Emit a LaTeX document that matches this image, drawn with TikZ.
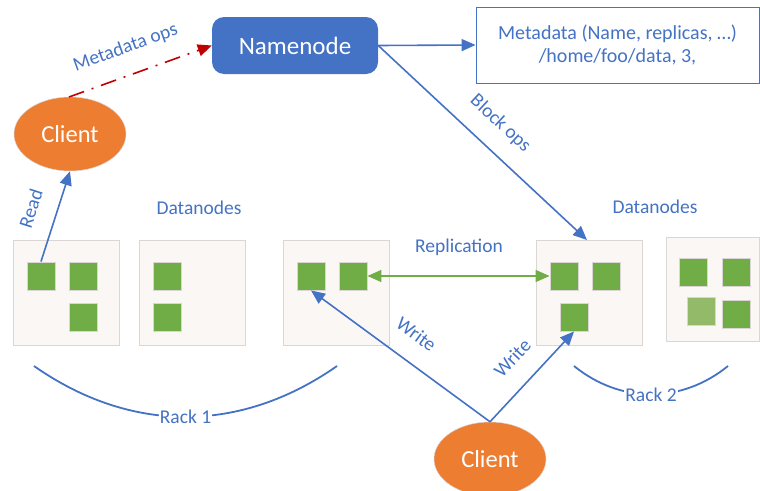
\documentclass[tikz,border=0pt]{standalone}
\usepackage{fontspec}
\setmainfont{Carlito}
\usetikzlibrary{arrows.meta,shapes.geometric}
\definecolor{mblue}{HTML}{4472C4}
\definecolor{mgreen}{HTML}{70AD47}
\definecolor{lgreen}{HTML}{93BA68}
\definecolor{morange}{HTML}{ED7D31}
\definecolor{mred}{HTML}{C00000}
\definecolor{boxfill}{HTML}{FBF7F4}
\definecolor{boxline}{HTML}{D9D6D4}
\tikzset{
  dnbox/.style={draw=boxline,fill=boxfill,line width=0.9pt,minimum width=106pt,minimum height=105pt,inner sep=0pt},
  blk/.style={draw=boxline,fill=mgreen,line width=0.9pt,minimum size=28pt,inner sep=0pt},
  lbl/.style={text=mblue,font=\fontsize{19.5}{22}\selectfont,inner sep=1pt},
  client/.style={ellipse,fill=morange,draw=boxline,line width=0.5pt,minimum width=112pt,minimum height=74pt,text=white,font=\fontsize{24.5}{27}\selectfont},
  barrow/.style={draw=mblue,line width=1.6pt,-{Triangle[length=14pt,width=12pt]}},
  rack/.style={draw=mblue,line width=1.8pt},
}
\begin{document}
\begin{tikzpicture}[x=1pt,y=-1pt]
\useasboundingbox (0,0) rectangle (760,490);
% Namenode
\node[fill=mblue,rounded corners=12pt,minimum width=166pt,minimum height=57pt,text=white,font=\fontsize{25}{28}\selectfont,inner sep=0pt] (nn) at (295,45.5) {Namenode};
% Metadata box
\node[draw=mblue,line width=0.9pt,minimum width=283pt,minimum height=76pt,inner sep=0pt,align=center,text=mblue,font=\fontsize{20}{23}\selectfont] (meta) at (617.5,45) {Metadata (Name, replicas, \ldots)\\/home/foo/data, 3,};
% Clients
\node[client] (c1) at (70,134) {Client};
\node[client] (c2) at (490,459) {Client};
% Datanode boxes
\node[dnbox] (d1) at (66,292.5) {};
\node[dnbox] (d2) at (192.5,292.5) {};
\node[dnbox] (d3) at (336,292.5) {};
\node[dnbox] (d4) at (589,292.5) {};
\node[dnbox,minimum width=93pt,minimum height=104pt] (d5) at (712.5,289) {};
% blocks
\node[blk] (b11) at (41,276) {};
\node[blk] (b12) at (83,276) {};
\node[blk] (b13) at (83,317) {};
\node[blk] (b21) at (167.5,276) {};
\node[blk] (b22) at (167.5,317) {};
\node[blk] (b31) at (311,276) {};
\node[blk] (b32) at (353,276) {};
\node[blk] (b41) at (564,276) {};
\node[blk] (b42) at (606,276) {};
\node[blk] (b43) at (574,317) {};
\node[blk] (b51) at (693,272) {};
\node[blk] (b52) at (736,272) {};
\node[blk,fill=lgreen] (b53) at (701,311) {};
\node[blk] (b54) at (736,314) {};
% labels
\node[lbl] (dl1) at (199,208) {Datanodes};
\node[lbl] (dl2) at (655,207) {Datanodes};
\node[lbl] (repl) at (459,247) {Replication};
% arrows
\coordinate (mstart) at (69,97);
\draw[draw=mred,line width=1.6pt,dash pattern=on 16pt off 8pt on 2pt off 8pt,-{Triangle[length=14pt,width=12pt]}] (mstart) -- (nn.west) node[pos=0.46,sloped,lbl,yshift=27pt,anchor=center] {Metadata ops};
\draw[barrow] (nn.east) -- (meta.west);
\coordinate (bend) at (587,240);
\draw[barrow] (nn.east) -- (bend) node[midway,sloped,lbl,yshift=26pt,anchor=center] {Block ops};
\draw[barrow] (b11.north) -- (c1.south) node[midway,sloped,lbl,yshift=26pt,anchor=center] {Read};
\draw[draw=mgreen,line width=1.6pt,{Triangle[length=14pt,width=12pt]}-{Triangle[length=14pt,width=12pt]}] (b32.east) -- (b41.west);
\draw[barrow] (c2.north) -- (b31.south) node[midway,sloped,lbl,yshift=27pt,anchor=center] {Write};
\draw[barrow] (c2.north) -- (b43.south) node[midway,sloped,lbl,yshift=27pt,anchor=center] {Write};
% racks
\coordinate (r1a) at (34,366);
\coordinate (r1b) at (337,366);
\coordinate (r2a) at (574,366);
\coordinate (r2b) at (728,366);
\draw[rack] (r1a) to[bend right=35] node[pos=0.5,fill=white,lbl,inner sep=1pt] {Rack 1} (r1b);
\draw[rack] (r2a) to[bend right=39] node[pos=0.5,fill=white,lbl,inner sep=1pt] {Rack 2} (r2b);
\end{tikzpicture}
\end{document}
